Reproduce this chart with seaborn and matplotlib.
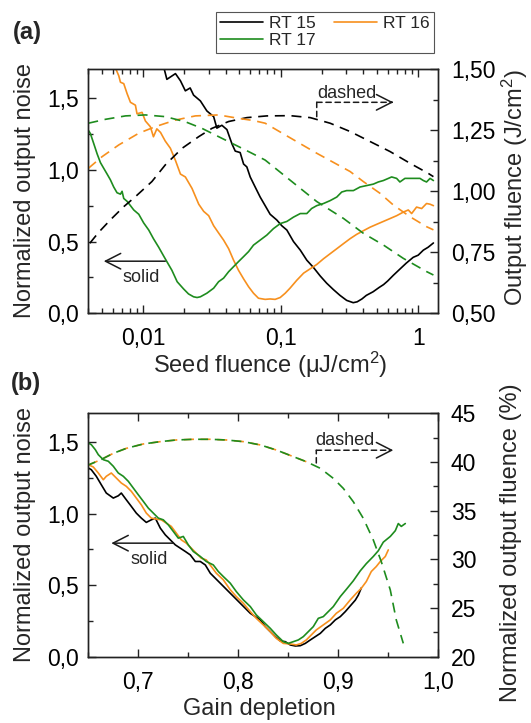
import numpy as np
import matplotlib
matplotlib.use("Agg")
import matplotlib.pyplot as plt
import seaborn as sns
from matplotlib.ticker import (FuncFormatter, MultipleLocator, LogLocator,
                               FixedLocator, FixedFormatter, NullFormatter)
from matplotlib.lines import Line2D

# ---------------- data: panel (a) ----------------
a15_x = [0.0141, 0.0149, 0.0172, 0.0187, 0.0203, 0.0220, 0.0233, 0.0261, 0.0291, 0.0326,
         0.0344, 0.0374, 0.0407, 0.0443, 0.0468, 0.0508, 0.0538, 0.0568, 0.0601, 0.0653,
         0.0710, 0.0772, 0.0839, 0.0938, 0.102, 0.111, 0.124, 0.139, 0.155, 0.173,
         0.194, 0.216, 0.242, 0.270, 0.302, 0.337, 0.36, 0.39, 0.42, 0.47,
         0.52, 0.56, 0.60, 0.66, 0.74, 0.82, 0.92, 1.00, 1.09, 1.18, 1.29]
a15_noise = [1.72, 1.63, 1.67, 1.62, 1.55, 1.57, 1.52, 1.48, 1.41, 1.37,
             1.29, 1.31, 1.28, 1.18, 1.13, 1.12, 1.04, 1.02, 0.95, 0.88,
             0.81, 0.75, 0.69, 0.65, 0.61, 0.58, 0.50, 0.44, 0.37, 0.32,
             0.26, 0.21, 0.165, 0.125, 0.09, 0.074, 0.08, 0.10, 0.125, 0.15,
             0.18, 0.20, 0.225, 0.265, 0.31, 0.35, 0.39, 0.405, 0.44, 0.46, 0.49]

a16_x = [0.00623, 0.00666, 0.00685, 0.00724, 0.00766, 0.00810, 0.00880, 0.00904, 0.00983, 0.0104,
         0.0113, 0.0119, 0.0126, 0.0134, 0.0145, 0.0158, 0.0172, 0.0187, 0.0203, 0.0227,
         0.0254, 0.0276, 0.0300, 0.0326, 0.0354, 0.0385, 0.0419, 0.0455, 0.0494, 0.0538,
         0.0585, 0.0635, 0.0690, 0.0772, 0.0839, 0.0912, 0.0993, 0.108, 0.117, 0.131,
         0.147, 0.164, 0.183, 0.205, 0.229, 0.256, 0.286, 0.320, 0.357, 0.399,
         0.447, 0.499, 0.558, 0.624, 0.697, 0.780, 0.847, 0.896, 0.973, 1.06,
         1.15, 1.22, 1.29]
a16_noise = [1.72, 1.655, 1.61, 1.60, 1.53, 1.47, 1.45, 1.39, 1.40, 1.34,
             1.30, 1.23, 1.285, 1.26, 1.20, 1.15, 1.065, 0.97, 0.95, 0.87,
             0.76, 0.71, 0.68, 0.61, 0.56, 0.51, 0.45, 0.37, 0.30, 0.24,
             0.185, 0.14, 0.105, 0.097, 0.10, 0.097, 0.11, 0.14, 0.175, 0.23,
             0.28, 0.31, 0.34, 0.38, 0.415, 0.45, 0.485, 0.52, 0.55, 0.575,
             0.60, 0.62, 0.64, 0.66, 0.68, 0.705, 0.72, 0.695, 0.74, 0.73,
             0.765, 0.76, 0.75]

a17_x = [0.00404, 0.00415, 0.00439, 0.00464, 0.00490, 0.00518, 0.00548, 0.00579, 0.00612, 0.00647,
         0.00685, 0.00704, 0.00724, 0.00766, 0.00810, 0.00856, 0.00931, 0.0101, 0.0110, 0.0119,
         0.0130, 0.0141, 0.0149, 0.0162, 0.0177, 0.0197, 0.0214, 0.0233, 0.0247, 0.0261,
         0.0291, 0.0326, 0.0354, 0.0385, 0.0419, 0.0455, 0.0494, 0.0538, 0.0585, 0.0635,
         0.0710, 0.0794, 0.0887, 0.0993, 0.111, 0.124, 0.139, 0.155, 0.168, 0.183,
         0.205, 0.229, 0.256, 0.278, 0.302, 0.338, 0.378, 0.422, 0.472, 0.513,
         0.558, 0.607, 0.641, 0.697, 0.736, 0.801, 0.920, 1.03, 1.09, 1.15, 1.22, 1.29]
a17_noise = [1.27, 1.25, 1.18, 1.11, 1.05, 1.01, 0.97, 0.93, 0.88, 0.84,
             0.83, 0.85, 0.80, 0.78, 0.75, 0.72, 0.69, 0.63, 0.58, 0.52,
             0.46, 0.40, 0.36, 0.30, 0.22, 0.17, 0.135, 0.115, 0.11, 0.115,
             0.14, 0.175, 0.22, 0.245, 0.29, 0.325, 0.36, 0.395, 0.43, 0.475,
             0.51, 0.545, 0.59, 0.625, 0.64, 0.67, 0.695, 0.695, 0.73, 0.75,
             0.765, 0.785, 0.81, 0.845, 0.855, 0.855, 0.88, 0.89, 0.90, 0.915,
             0.925, 0.94, 0.95, 0.94, 0.915, 0.94, 0.94, 0.94, 0.925, 0.915, 0.94, 0.925]

a15_fx = [0.0041, 0.00476, 0.00579, 0.00724, 0.00880, 0.0116, 0.0145, 0.0192, 0.0254, 0.0317,
          0.0419, 0.0569, 0.0794, 0.117, 0.164, 0.229, 0.320, 0.447, 0.624, 0.871, 1.18, 1.29]
a15_fluence = [0.787, 0.832, 0.883, 0.937, 0.978, 1.040, 1.108, 1.176, 1.224, 1.258,
               1.286, 1.302, 1.309, 1.310, 1.302, 1.279, 1.245, 1.204, 1.163, 1.115, 1.074, 1.060]

a16_fx = [0.004, 0.00504, 0.00666, 0.00931, 0.0123, 0.0172, 0.0240, 0.0354, 0.0494, 0.0635,
          0.0772, 0.105, 0.183, 0.320, 0.399, 0.527, 0.659, 0.871, 1.15, 1.29]
a16_fluence = [1.094, 1.142, 1.190, 1.238, 1.265, 1.292, 1.309, 1.313, 1.299, 1.290,
               1.279, 1.235, 1.156, 1.081, 1.040, 0.992, 0.944, 0.896, 0.855, 0.842]

a17_fx = [0.004, 0.00533, 0.00745, 0.0104, 0.0145, 0.0203, 0.0268, 0.0354, 0.0468, 0.0618,
          0.0772, 0.117, 0.183, 0.286, 0.399, 0.558, 0.780, 1.15, 1.29]
a17_fluence = [1.279, 1.295, 1.309, 1.313, 1.306, 1.285, 1.258, 1.224, 1.190, 1.156,
               1.128, 1.046, 0.958, 0.889, 0.828, 0.780, 0.725, 0.671, 0.657]

a_xticks = [0.01, 0.1, 1]
a_xticklabels = ["0,01", "0,1", "1"]

# ---------------- data: panel (b) ----------------
b15_g = [0.650, 0.653, 0.658, 0.663, 0.668, 0.675, 0.680, 0.683, 0.688, 0.693,
         0.698, 0.703, 0.708, 0.713, 0.717, 0.722, 0.727, 0.732, 0.737, 0.742,
         0.747, 0.752, 0.757, 0.762, 0.767, 0.772, 0.777, 0.782, 0.787, 0.792,
         0.797, 0.802, 0.807, 0.812, 0.817, 0.822, 0.827, 0.832, 0.837, 0.842,
         0.847, 0.852, 0.857, 0.862, 0.867, 0.872, 0.877, 0.882, 0.887, 0.892,
         0.897, 0.902, 0.907, 0.912, 0.917, 0.920, 0.923]
b15_noise = [1.318, 1.306, 1.260, 1.201, 1.143, 1.108, 1.124, 1.143, 1.096, 1.050,
             1.003, 0.968, 0.938, 0.956, 0.968, 0.898, 0.851, 0.816, 0.781, 0.758,
             0.735, 0.711, 0.665, 0.665, 0.641, 0.583, 0.548, 0.513, 0.478, 0.443,
             0.408, 0.373, 0.338, 0.303, 0.280, 0.257, 0.210, 0.175, 0.140, 0.110,
             0.105, 0.082, 0.075, 0.077, 0.093, 0.117, 0.140, 0.163, 0.198, 0.222,
             0.257, 0.280, 0.315, 0.355, 0.395, 0.43, 0.48]

b16_g = [0.650, 0.655, 0.660, 0.665, 0.668, 0.673, 0.678, 0.683, 0.688, 0.693,
         0.698, 0.703, 0.708, 0.713, 0.718, 0.723, 0.728, 0.733, 0.738, 0.743,
         0.748, 0.753, 0.758, 0.763, 0.768, 0.773, 0.778, 0.785, 0.792, 0.798,
         0.805, 0.812, 0.818, 0.825, 0.832, 0.838, 0.845, 0.852, 0.858, 0.863,
         0.868, 0.873, 0.878, 0.885, 0.892, 0.898, 0.905, 0.912, 0.918, 0.923,
         0.928, 0.933, 0.938, 0.942, 0.947, 0.950]
b16_noise = [1.341, 1.325, 1.283, 1.236, 1.260, 1.283, 1.248, 1.213, 1.190, 1.155,
             1.108, 1.061, 1.003, 0.968, 0.961, 0.956, 0.933, 0.910, 0.863, 0.816,
             0.793, 0.758, 0.723, 0.688, 0.676, 0.630, 0.583, 0.537, 0.467, 0.420,
             0.373, 0.315, 0.268, 0.222, 0.175, 0.128, 0.093, 0.089, 0.082, 0.093,
             0.117, 0.152, 0.187, 0.222, 0.257, 0.303, 0.338, 0.397, 0.443, 0.478,
             0.525, 0.595, 0.630, 0.665, 0.700, 0.746]

b17_g = [0.650, 0.653, 0.657, 0.660, 0.665, 0.670, 0.675, 0.680, 0.685, 0.690,
         0.695, 0.700, 0.705, 0.710, 0.715, 0.720, 0.725, 0.730, 0.735, 0.740,
         0.745, 0.750, 0.755, 0.762, 0.768, 0.775, 0.780, 0.785, 0.792, 0.798,
         0.805, 0.812, 0.818, 0.825, 0.832, 0.838, 0.845, 0.850, 0.855, 0.860,
         0.865, 0.870, 0.875, 0.880, 0.885, 0.890, 0.895, 0.902, 0.908, 0.915,
         0.922, 0.928, 0.935, 0.940, 0.945, 0.952, 0.957, 0.960, 0.963, 0.967]
b17_noise = [1.493, 1.481, 1.446, 1.411, 1.376, 1.365, 1.330, 1.283, 1.260, 1.225,
             1.178, 1.131, 1.085, 1.038, 1.003, 0.968, 0.956, 0.921, 0.875, 0.828,
             0.840, 0.781, 0.735, 0.700, 0.665, 0.641, 0.595, 0.560, 0.513, 0.455,
             0.397, 0.350, 0.292, 0.245, 0.198, 0.152, 0.105, 0.093, 0.105, 0.117,
             0.140, 0.175, 0.210, 0.268, 0.280, 0.315, 0.350, 0.42, 0.47, 0.53,
             0.60, 0.65, 0.70, 0.74, 0.80, 0.84, 0.88, 0.93, 0.91, 0.93]

b_fl_g = [0.650, 0.662, 0.675, 0.688, 0.705, 0.722, 0.738, 0.755, 0.772, 0.788,
          0.805, 0.822, 0.838, 0.855, 0.868, 0.882, 0.895, 0.905, 0.915, 0.925,
          0.935, 0.943, 0.952, 0.958, 0.965]
b_fl_pct = [39.69, 40.21, 40.89, 41.40, 41.85, 42.09, 42.26, 42.33, 42.33, 42.26,
            42.09, 41.75, 41.23, 40.55, 40.03, 39.35, 38.32, 37.29, 35.92, 34.21,
            31.99, 29.76, 26.85, 23.77, 21.37]

series_names = ["RT 15", "RT 16", "RT 17"]
colors = ["#000000", "#F7901E", "#1E8C1E"]

# ---------------- style ----------------
sns.set_theme(style="ticks")
plt.rcParams["font.family"] = ["Liberation Sans", "DejaVu Sans"]
plt.rcParams["mathtext.fontset"] = "custom"
plt.rcParams["mathtext.rm"] = "Liberation Sans"
plt.rcParams["mathtext.it"] = "Liberation Sans:italic"
plt.rcParams["mathtext.default"] = "regular"
plt.rcParams["axes.edgecolor"] = "#222222"
plt.rcParams["axes.linewidth"] = 1.0
plt.rcParams["xtick.color"] = "#222222"
plt.rcParams["ytick.color"] = "#222222"
plt.rcParams["xtick.labelcolor"] = "black"
plt.rcParams["ytick.labelcolor"] = "black"

TICK_FS = 16.5
LAB_FS = 17
ANN_FS = 13
LW = 1.2
DASH = (0, (6, 4))

W, H = 531, 723
fig = plt.figure(figsize=(W / 100, H / 100), dpi=100)
axA = fig.add_axes([88.3 / W, 1 - 313.3 / H, 350 / W, 244 / H])
axB = fig.add_axes([88.3 / W, 1 - 656.7 / H, 350 / W, 243.4 / H])
axA2 = axA.twinx()
axB2 = axB.twinx()

comma1 = FuncFormatter(lambda v, p: f"{v:.1f}".replace(".", ","))
comma2 = FuncFormatter(lambda v, p: f"{v:.2f}".replace(".", ","))
int0 = FuncFormatter(lambda v, p: f"{v:.0f}")

# ---------------- panel (a) ----------------
for xs, ys, c in [(a15_x, a15_noise, colors[0]), (a16_x, a16_noise, colors[1]),
                  (a17_x, a17_noise, colors[2])]:
    sns.lineplot(x=np.array(xs), y=np.array(ys), ax=axA, color=c, linewidth=LW,
                 sort=False, estimator=None)
for xs, ys, c in [(a15_fx, a15_fluence, colors[0]), (a16_fx, a16_fluence, colors[1]),
                  (a17_fx, a17_fluence, colors[2])]:
    sns.lineplot(x=np.array(xs), y=np.array(ys), ax=axA2, color=c, linewidth=LW,
                 linestyle=DASH, sort=False, estimator=None)

axA.set_xscale("log")
axA.set_xlim(0.004, 1.4)
axA.set_ylim(0, 1.7)
axA2.set_ylim(0.5, 1.5)
axA.xaxis.set_major_locator(FixedLocator(a_xticks))
axA.xaxis.set_major_formatter(FixedFormatter(a_xticklabels))
axA.xaxis.set_minor_locator(LogLocator(base=10, subs=np.arange(2, 10)))
axA.xaxis.set_minor_formatter(NullFormatter())
axA.yaxis.set_major_locator(MultipleLocator(0.5))
axA.yaxis.set_minor_locator(MultipleLocator(0.25))
axA.yaxis.set_major_formatter(comma1)
axA2.yaxis.set_major_locator(MultipleLocator(0.25))
axA2.yaxis.set_minor_locator(MultipleLocator(0.125))
axA2.yaxis.set_major_formatter(comma2)

# ---------------- panel (b) ----------------
for xs, ys, c in [(b15_g, b15_noise, colors[0]), (b16_g, b16_noise, colors[1]),
                  (b17_g, b17_noise, colors[2])]:
    sns.lineplot(x=np.array(xs), y=np.array(ys), ax=axB, color=c, linewidth=LW,
                 sort=False, estimator=None)
n_or = 15
sns.lineplot(x=np.array(b_fl_g[:n_or]), y=np.array(b_fl_pct[:n_or]), ax=axB2,
             color=colors[1], linewidth=LW, linestyle=DASH, sort=False, estimator=None)
sns.lineplot(x=np.array(b_fl_g), y=np.array(b_fl_pct), ax=axB2, color=colors[2],
             linewidth=LW, linestyle=(1.5, (6, 4)), sort=False, estimator=None)

axB.set_xlim(0.65, 1.0)
axB.set_ylim(0, 1.7)
axB2.set_ylim(20, 45)
axB.xaxis.set_major_locator(MultipleLocator(0.1))
axB.xaxis.set_minor_locator(MultipleLocator(0.05))
axB.xaxis.set_major_formatter(comma1)
axB.yaxis.set_major_locator(MultipleLocator(0.5))
axB.yaxis.set_minor_locator(MultipleLocator(0.25))
axB.yaxis.set_major_formatter(comma1)
axB2.yaxis.set_major_locator(MultipleLocator(5))
axB2.yaxis.set_minor_locator(MultipleLocator(2.5))
axB2.yaxis.set_major_formatter(int0)

# ---------------- ticks / spines ----------------
for ax in (axA, axB):
    ax.set_xlabel("")
    ax.set_ylabel("")
    ax.tick_params(axis="x", which="both", direction="in", top=True, bottom=True,
                   labelsize=TICK_FS, pad=10)
    ax.tick_params(axis="y", which="both", direction="in", left=True, right=False,
                   labelsize=TICK_FS, pad=7)
    ax.tick_params(which="major", length=6, width=1.0)
    ax.tick_params(which="minor", length=3.5, width=1.0)
for ax in (axA2, axB2):
    ax.set_ylabel("")
    ax.tick_params(axis="y", which="both", direction="in", right=True, left=False,
                   labelsize=TICK_FS, pad=9)
    ax.tick_params(which="major", length=6, width=1.0)
    ax.tick_params(which="minor", length=3.5, width=1.0)
    for s in ax.spines.values():
        s.set_visible(True)

# ---------------- annotations ----------------
arrow_head = dict(arrowstyle="->,head_length=0.55,head_width=0.28", lw=1.1, color="k",
                  shrinkA=0, shrinkB=0, mutation_scale=20)
dash_seg = dict(arrowstyle="-", lw=1.1, color="k", linestyle=(0, (3.5, 2.5)),
                shrinkA=0, shrinkB=0)

# (a)
axA.text(0.302, 1.50, "dashed", ha="center", va="baseline", fontsize=ANN_FS)
axA.annotate("", xy=(0.183, 1.47), xytext=(0.183, 1.37), arrowprops=dash_seg)
axA.annotate("", xy=(0.645, 1.47), xytext=(0.183, 1.47), arrowprops=dash_seg)
axA.annotate("", xy=(0.66, 1.47), xytext=(0.64, 1.47), arrowprops=arrow_head)
axA.annotate("", xy=(0.00518, 0.363), xytext=(0.0145, 0.363), arrowprops=arrow_head)
axA.text(0.0097, 0.22, "solid", ha="center", va="baseline", fontsize=ANN_FS)

# (b)
axB.text(0.907, 1.48, "dashed", ha="center", va="baseline", fontsize=ANN_FS)
axB.annotate("", xy=(0.878, 1.442), xytext=(0.878, 1.353), arrowprops=dash_seg)
axB.annotate("", xy=(0.952, 1.442), xytext=(0.878, 1.442), arrowprops=dash_seg)
axB.annotate("", xy=(0.955, 1.442), xytext=(0.951, 1.442), arrowprops=arrow_head)
axB.annotate("", xy=(0.673, 0.793), xytext=(0.735, 0.793), arrowprops=arrow_head)
axB.text(0.711, 0.646, "solid", ha="center", va="baseline", fontsize=ANN_FS)

# ---------------- labels ----------------
fig.text(25 / W, 1 - 190 / H, "Normalized output noise", rotation=90, ha="center",
         va="center", fontsize=LAB_FS)
fig.text(515 / W, 1 - 188 / H, "Output fluence (J/cm$^2$)", rotation=90, ha="center",
         va="center", fontsize=LAB_FS)
fig.text(270 / W, 1 - 373 / H, "Seed fluence (μJ/cm$^2$)", ha="center", va="baseline",
         fontsize=LAB_FS)
fig.text(25 / W, 1 - 535 / H, "Normalized output noise", rotation=90, ha="center",
         va="center", fontsize=LAB_FS)
fig.text(511 / W, 1 - 543 / H, "Normalized output fluence (%)", rotation=90, ha="center",
         va="center", fontsize=LAB_FS)
fig.text(259 / W, 1 - 715 / H, "Gain depletion", ha="center", va="baseline",
         fontsize=LAB_FS)
fig.text(27 / W, 1 - 39.5 / H, "(a)", ha="center", va="baseline", fontsize=17,
         fontweight="bold")
fig.text(26 / W, 1 - 390 / H, "(b)", ha="center", va="baseline", fontsize=17,
         fontweight="bold")

# ---------------- legend ----------------
handles = [Line2D([], [], color=c, lw=LW) for c in colors]
order = [0, 2, 1]
leg = fig.legend([handles[i] for i in order], [series_names[i] for i in order],
                 loc="upper right", bbox_to_anchor=(434 / W, 1 - 12 / H), ncol=2,
                 frameon=True, fancybox=False, edgecolor="#555555", fontsize=12.5,
                 handlelength=2.5, handletextpad=0.35, columnspacing=1.0,
                 borderpad=0.25, labelspacing=0.1, framealpha=1, borderaxespad=0)
leg.get_frame().set_linewidth(0.8)

fig.savefig("out.png", dpi=100)
